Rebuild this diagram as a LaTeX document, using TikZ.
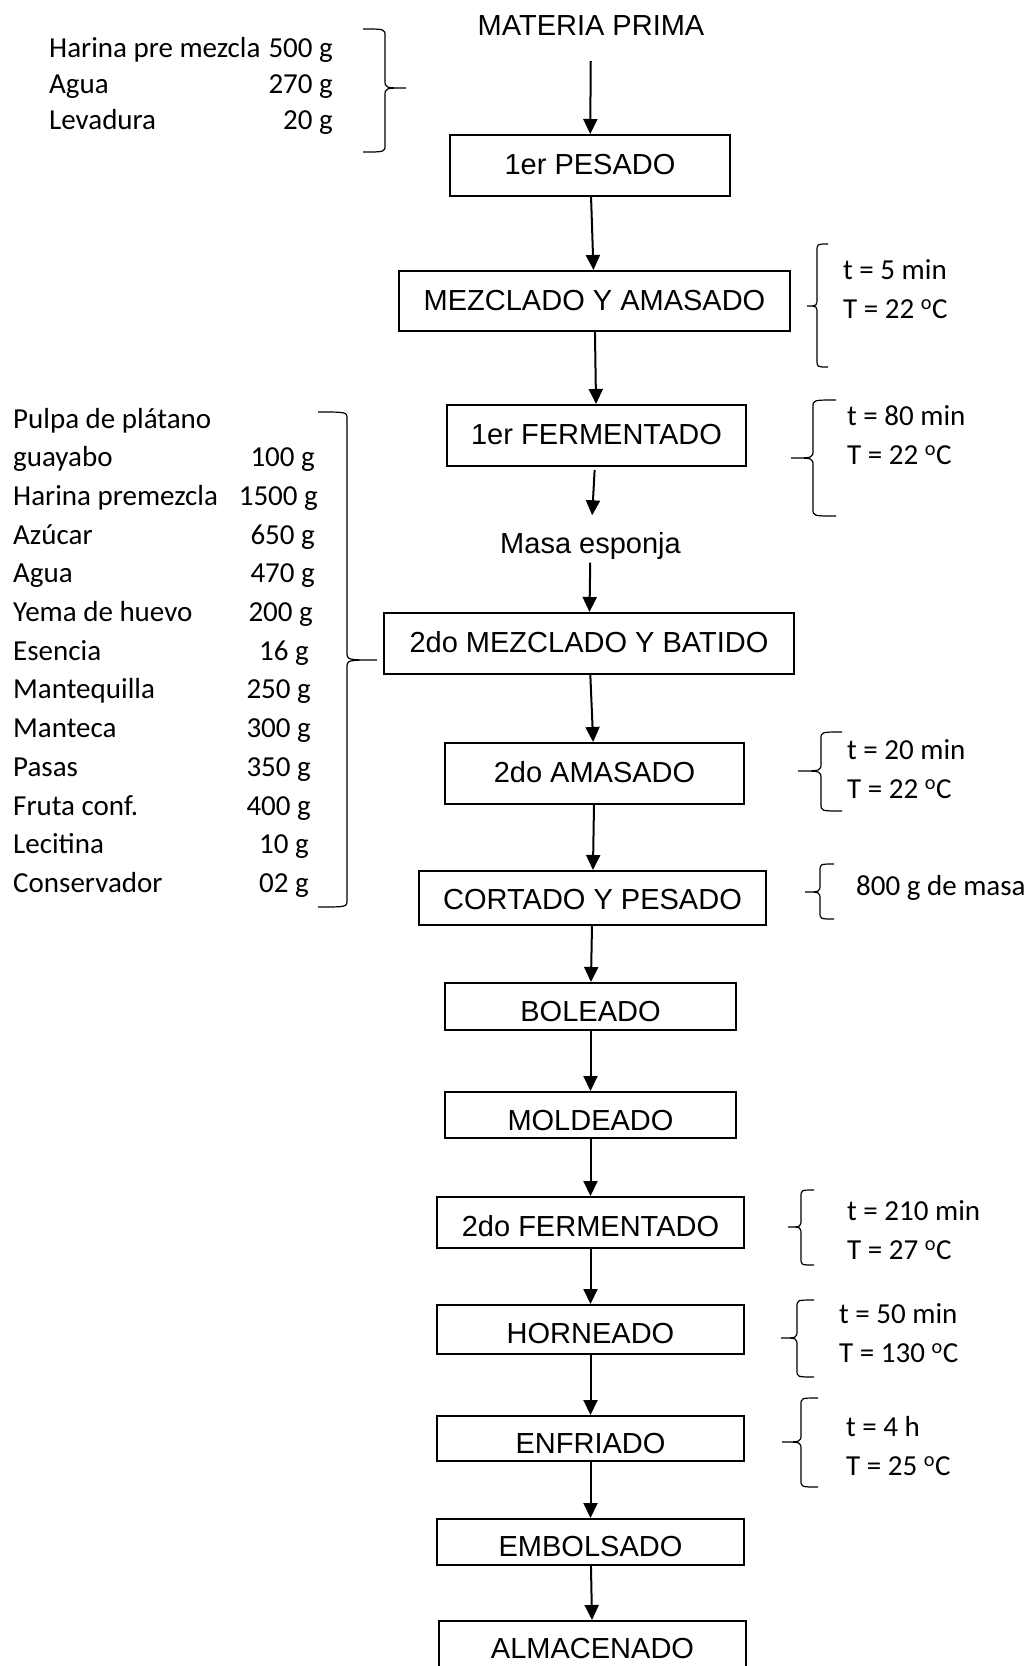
\documentclass[tikz,border=0pt]{standalone}
\usepackage{fontspec}
\setmainfont{Carlito}
\newfontfamily\arialf{Liberation Sans}
\usepackage{tikz}
\usetikzlibrary{arrows.meta}

\begin{document}
\begin{tikzpicture}[
  x=1pt, y=-1pt,
  stepbox/.style={draw, line width=2pt, inner sep=0pt, text depth=0pt, font=\arialf\fontsize{29}{35}\selectfont},
  title/.style={inner sep=0pt, font=\arialf\fontsize{29}{35}\selectfont},
  txt/.style={inner sep=0pt, font=\fontsize{29}{35}\selectfont},
  arr/.style={-{Triangle[length=15pt, width=14pt]}, line width=2pt},
  curly/.style={line width=1.2pt}
]
  \useasboundingbox (0,0) rectangle (1029,1666);
  \clip (0,0) rectangle (1029,1666);

  % process steps
  \node[title] (mp) at (591,26) {MATERIA PRIMA};
  \foreach \nm/\x/\y/\w/\h/\th/\txt in {
      pesado1/590/165.5/280/61/17/1er PESADO,
      mezcla1/594.5/301/391/60/19/MEZCLADO Y AMASADO,
      ferm1/596.5/435.5/299/61/17/1er FERMENTADO,
      mezcla2/589/643.5/410/61/17/2do MEZCLADO Y BATIDO,
      amasado2/594.5/773.5/299/61/17/2do AMASADO,
      cortado/592.5/898/347/54/23/CORTADO Y PESADO,
      boleado/590.5/1006.5/291/47/29/BOLEADO,
      moldeado/590.5/1115/291/46/31/MOLDEADO,
      ferm2/590.5/1222.5/307/51/27/2do FERMENTADO,
      horneado/590.5/1329.5/307/49/27/HORNEADO,
      enfriado/590.5/1438.5/307/45/29/ENFRIADO,
      embolsado/590.5/1542/307/46/29/EMBOLSADO,
      almacen/592.5/1646/307/50/25/ALMACENADO}{
    \node[stepbox, minimum width=\w pt, minimum height=\h pt, text height=\th pt] (\nm) at (\x,\y) {\txt};
  }
  \node[title] (masa) at (590.5,546) {Masa esponja};

  % flow
  \draw[arr, shorten <=25pt] (mp) -- (pesado1);
  \draw[arr, shorten <=3pt, shorten >=17pt] (ferm1) -- (masa);
  \draw[arr, shorten <=3pt] (masa) -- (mezcla2);
  \foreach \a/\b in {pesado1/mezcla1, mezcla1/ferm1, mezcla2/amasado2, amasado2/cortado,
      cortado/boleado, boleado/moldeado, moldeado/ferm2, ferm2/horneado,
      horneado/enfriado, enfriado/embolsado, embolsado/almacen}{
    \draw[arr] (\a) -- (\b);
  }

  % braces
  \foreach \xe/\xv/\xt/\yt/\ym/\yb in {
      828/817/807/244/306/367, 836/813/791/400/458/516, 842/821/798/732/771/811,
      834/820/805/864/892/919, 814/801/788/1190/1227/1265, 814/797/781/1300/1338/1377,
      818/801/782/1398/1442/1487, 363/385/406/29/88/152, 318/347/377/412/660/907}{
    \draw[curly] (\xe,\yt) .. controls (\xv,\yt) .. (\xv,\yt+7) -- (\xv,\ym-8)
      .. controls (\xv,\ym) .. (\xt,\ym) .. controls (\xv,\ym) .. (\xv,\ym+8)
      -- (\xv,\yb-7) .. controls (\xv,\yb) .. (\xe,\yb);
  }

  % conditions
  \foreach \n/\x/\y/\t/\temp in {1/843/279/5 min/22, 2/847/425/80 min/22, 3/847/759/20 min/22,
      5/847/1220/210 min/27, 6/839/1323/50 min/130, 7/846/1436/4 h/25}{
    \node[txt, anchor=base west] (t\n) at (\x,\y) {t = \t};
    \node[txt, anchor=base west] (T\n) at (\x,\y+39.5) {T = \temp\ \textsuperscript{o}C};
  }
  \node[txt, anchor=base west] (t4) at (856,895) {800 g de masa};

  % first ingredients
  \foreach \nm/\q/\y [count=\i] in {Harina pre mezcla/500 g/57, Agua/270 g/93, Levadura/20 g/129}{
    \node[txt, anchor=base west] (pre\i) at (49,\y) {\nm};
    \node[txt, anchor=base east] (preq\i) at (333,\y) {\q};
  }

  % second ingredients
  \node[txt, anchor=base west] (ing0) at (13,428) {Pulpa de plátano};
  \foreach \nm/\q/\xq [count=\i] in {guayabo/100 g/315, Harina premezcla/1500 g/318,
      Azúcar/650 g/315, Agua/470 g/315, Yema de huevo/200 g/313, Esencia/16 g/309,
      Mantequilla/250 g/311, Manteca/300 g/311, Pasas/350 g/311, Fruta conf./400 g/311,
      Lecitina/10 g/309, Conservador/02 g/309}{
    \node[txt, anchor=base west] (ing\i) at (13,428+38.7*\i) {\nm};
    \node[txt, anchor=base east] (qty\i) at (\xq,428+38.7*\i) {\q};
  }
\end{tikzpicture}
\end{document}
